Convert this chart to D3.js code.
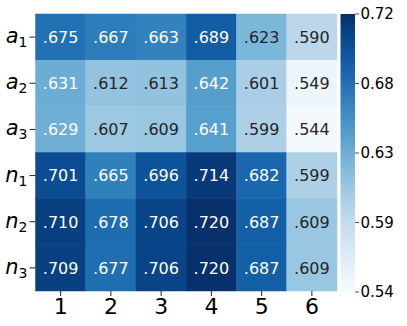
<!DOCTYPE html>
<html>
<head>
<meta charset="utf-8">
<script src="https://cdn.jsdelivr.net/npm/d3@7"></script>
<style>
  body { margin: 0; background: #fff; }
  text { font-family: "DejaVu Sans", sans-serif; }
</style>
</head>
<body>
<div class="chart"></div>
<script>
var width = 407
var height = 326

var rowNames = ['a', 'a', 'a', 'n', 'n', 'n']
var rowSubs = ['1', '2', '3', '1', '2', '3']
var colNames = ['1', '2', '3', '4', '5', '6']
var values = [
    [0.675, 0.667, 0.663, 0.689, 0.623, 0.590],
    [0.631, 0.612, 0.613, 0.642, 0.601, 0.549],
    [0.629, 0.607, 0.609, 0.641, 0.599, 0.544],
    [0.701, 0.665, 0.696, 0.714, 0.682, 0.599],
    [0.710, 0.678, 0.706, 0.720, 0.687, 0.609],
    [0.709, 0.677, 0.706, 0.720, 0.687, 0.609]
]
var colorMin = 0.54
var colorMax = 0.72
var barTicks = [0.54, 0.585, 0.63, 0.675, 0.72]
var barTickLabels = ['0.54', '0.59', '0.63', '0.68', '0.72']

// plot box (window.top is read-only, so no plain "top")
var boxLeft = 35.5, boxRight = 337, boxTop = 14, boxBottom = 291
var barLeft = 340.5, barRight = 355

var svg = d3.select('.chart').append('svg')
    .attr('width', width)
    .attr('height', height)

var x = d3.scaleBand().domain(d3.range(colNames.length)).range([boxLeft, boxRight])
var y = d3.scaleBand().domain(d3.range(rowNames.length)).range([boxTop, boxBottom])
var color = d3.scaleSequential(d3.interpolateBlues).domain([colorMin, colorMax])

var cells = []
values.forEach(function (row, i) {
    row.forEach(function (v, j) {
        cells.push({ r: i, c: j, v: v })
    })
})

function lum(c) {
    var rgb = d3.rgb(c)
    var f = function (u) {
        u = u / 255
        return u <= 0.03928 ? u / 12.92 : Math.pow((u + 0.055) / 1.055, 2.4)
    }
    return 0.2126 * f(rgb.r) + 0.7152 * f(rgb.g) + 0.0722 * f(rgb.b)
}

svg.selectAll('rect.cell')
    .data(cells)
    .enter()
    .append('rect')
    .attr('class', 'cell')
    .attr('x', function (d) { return x(d.c) })
    .attr('y', function (d) { return y(d.r) })
    .attr('width', x.bandwidth())
    .attr('height', y.bandwidth())
    .attr('fill', function (d) { return color(d.v) })
    .attr('stroke', function (d) { return color(d.v) })
    .attr('stroke-width', 0.5)

svg.selectAll('text.val')
    .data(cells)
    .enter()
    .append('text')
    .attr('class', 'val')
    .attr('x', function (d) { return x(d.c) + x.bandwidth() / 2 })
    .attr('y', function (d) { return y(d.r) + y.bandwidth() / 2 })
    .attr('dy', '0.36em')
    .attr('text-anchor', 'middle')
    .attr('font-size', 16)
    .attr('fill', function (d) { return lum(color(d.v)) > 0.408 ? '#262626' : '#ffffff' })
    .text(function (d) { return d3.format('.3f')(d.v).replace(/^0/, '') })

// y labels
var yl = svg.selectAll('g.ylab')
    .data(rowNames)
    .enter()
    .append('g')
    .attr('class', 'ylab')
    .attr('transform', function (d, i) { return 'translate(0,' + (y(i) + y.bandwidth() / 2) + ')' })

yl.append('line')
    .attr('x1', boxLeft - 6).attr('x2', boxLeft)
    .attr('stroke', '#262626').attr('stroke-width', 1)

yl.append('text')
    .attr('x', boxLeft - 8)
    .attr('y', 6)
    .attr('text-anchor', 'end')
    .attr('fill', '#000')
    .each(function (d, i) {
        var t = d3.select(this)
        t.append('tspan').attr('font-style', 'italic').attr('font-size', 21).text(d)
        t.append('tspan').attr('font-size', 14).attr('dy', 4).text(rowSubs[i])
    })

// x labels
var xl = svg.selectAll('g.xlab')
    .data(colNames)
    .enter()
    .append('g')
    .attr('class', 'xlab')
    .attr('transform', function (d, i) { return 'translate(' + (x(i) + x.bandwidth() / 2) + ',' + boxBottom + ')' })

xl.append('line')
    .attr('y1', 0).attr('y2', 5)
    .attr('stroke', '#262626').attr('stroke-width', 1)

xl.append('text')
    .attr('y', 22.5)
    .attr('text-anchor', 'middle')
    .attr('font-size', 22)
    .attr('fill', '#000')
    .text(function (d) { return d })

// colorbar
var barScale = d3.scaleLinear().domain([colorMin, colorMax]).range([boxBottom + 1, boxTop])
var defs = svg.append('defs')
var grad = defs.append('linearGradient')
    .attr('id', 'bar-grad')
    .attr('x1', 0).attr('y1', 1).attr('x2', 0).attr('y2', 0)
d3.range(0, 1.0001, 0.05).forEach(function (t) {
    grad.append('stop')
        .attr('offset', t)
        .attr('stop-color', color(colorMin + t * (colorMax - colorMin)))
})

svg.append('rect')
    .attr('x', barLeft)
    .attr('y', boxTop)
    .attr('width', barRight - barLeft)
    .attr('height', boxBottom + 1 - boxTop)
    .attr('fill', 'url(#bar-grad)')

var bt = svg.selectAll('g.btick')
    .data(barTicks)
    .enter()
    .append('g')
    .attr('class', 'btick')
    .attr('transform', function (d) { return 'translate(' + barRight + ',' + barScale(d) + ')' })

bt.append('line')
    .attr('x1', 0).attr('x2', 4)
    .attr('stroke', '#262626').attr('stroke-width', 0.8)

bt.append('text')
    .attr('x', 5.5)
    .attr('dy', '0.36em')
    .attr('font-size', 15)
    .attr('fill', '#000')
    .text(function (d, i) { return barTickLabels[i] })
</script>
</body>
</html>
